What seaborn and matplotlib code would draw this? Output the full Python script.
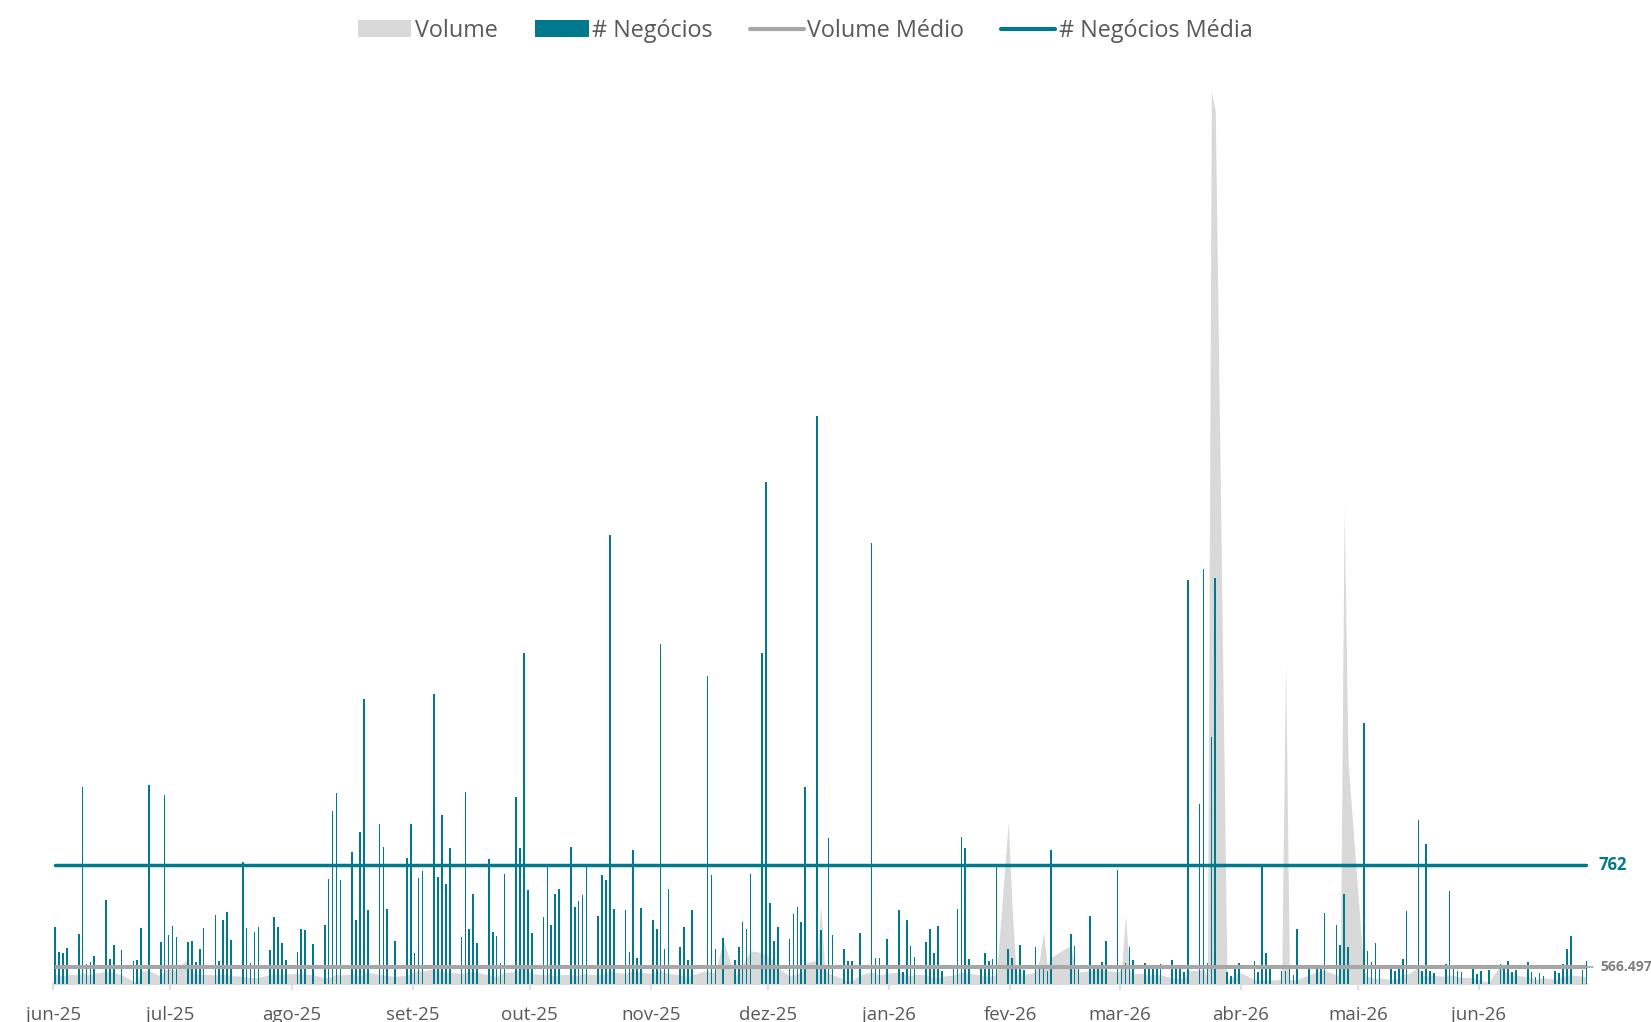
import numpy as np
import pandas as pd
import matplotlib
matplotlib.use("Agg")
import matplotlib.pyplot as plt
from matplotlib.patches import Patch
from matplotlib.lines import Line2D
import seaborn as sns

# ---------------- dados ----------------
inicio, fim = "2025-06-03", "2026-06-30"

# dias úteis sem pregão / sem negócios registrados
dias_sem_negocio = [
    "2025-06-19", "2025-06-26", "2025-08-07", "2025-08-28", "2025-11-14",
    "2025-11-20", "2025-12-25", "2026-01-01", "2026-02-16", "2026-02-17",
    "2026-04-03", "2026-04-21", "2026-05-01", "2026-06-04",
]

# número de negócios por pregão (uma linha por semana)
negocios = [
    365, 200, 196, 226,
    320, 1261, 128, 139, 175,
    538, 158, 248, 218,
    145, 149, 356, 1274,
    267, 1206, 312, 369, 299,
    265, 271, 139, 220, 356,
    440, 145, 405, 459, 282,
    777, 356, 134, 333, 361,
    213, 427, 363, 260, 154,
    203, 353, 341, 256,
    373, 670, 1108, 1221, 664,
    841, 408, 973, 1823, 472,
    1020, 873, 476, 273,
    805, 1020, 196, 676, 721,
    1857, 683, 1078, 640, 869,
    297, 1229, 348, 576, 260,
    800, 333, 305, 130, 700,
    1193, 866, 2118, 600, 324,
    429, 749, 376, 572, 604,
    877, 489, 527, 570, 749,
    435, 696, 664, 2873, 478,
    472, 205, 854, 162, 484,
    405, 348, 2172, 224, 606,
    237, 361, 154, 474,
    1970, 696, 222, 290,
    152, 235, 395, 350, 700,
    2118, 3210, 514, 275, 363,
    286, 446, 491, 395, 1259,
    3634, 344, 109, 930, 312,
    220, 147, 147, 324,
    2819, 162, 162, 286,
    474, 73, 408, 243, 169,
    265, 350, 196, 371, 81,
    100, 480, 937, 866, 156,
    100, 196, 145, 156, 751,
    220, 162, 100, 245, 87,
    233, 100, 100, 79, 856,
    320, 241, 100,
    431, 100, 100, 139, 275,
    728, 100, 130, 233, 154,
    134, 100, 100, 100, 128,
    152, 100, 100, 77, 2583,
    1150, 2657, 130, 1580, 2597,
    77, 51, 100, 130,
    143, 75, 751, 198, 100,
    79, 79, 100, 53, 348,
    100, 100, 100, 450,
    376, 245, 574, 237,
    1666, 207, 141, 258, 100,
    100, 79, 100, 158, 463,
    1048, 79, 896, 79, 70,
    126, 595, 100, 83, 75,
    100, 60, 81, 85,
    128, 117, 145, 77, 85,
    137, 75, 41, 68, 47,
    81, 66, 124, 220, 305,
    85, 145,
]

# volume financeiro por pregão, em milhares
volume_mil = [
    330, 300, 260, 320,
    300, 380, 330, 300, 350,
    420, 400, 380, 300,
    80, 120, 420, 450,
    250, 480, 500, 480, 460,
    860, 380, 330, 350, 320,
    300, 320, 330, 300, 280,
    250, 230, 220, 200, 220,
    300, 330, 320, 300, 330,
    350, 330, 320, 300,
    200, 230, 260, 330, 300,
    320, 300, 250, 350, 380,
    330, 300, 280, 250,
    280, 350, 420, 450, 430,
    500, 450, 420, 400, 380,
    350, 380, 420, 400, 380,
    300, 280, 250, 320, 380,
    420, 500, 650, 450, 350,
    300, 320, 300, 280, 300,
    320, 280, 300, 350, 330,
    300, 320, 350, 500, 380,
    350, 400, 500, 420, 380,
    350, 400, 450, 380, 350,
    300, 280, 250, 300,
    450, 400, 350, 1500,
    250, 450, 650, 900, 1120,
    1050, 1000, 900, 750, 550,
    250, 300, 350, 400, 700,
    800, 2670, 500, 350, 300,
    150, 120, 100, 300,
    400, 350, 300, 350,
    400, 350, 300, 280, 320,
    300, 250, 200, 220, 250,
    300, 350, 400, 380, 350,
    300, 280, 250, 280, 300,
    5500, 2500, 300, 350, 300,
    400, 800, 1760, 600, 900,
    1300, 600, 400,
    450, 500, 500, 450, 450,
    400, 450, 2330, 450, 350,
    350, 300, 300, 320, 300,
    200, 220, 200, 180, 450,
    450, 500, 200, 30300, 29600,
    100, 200, 300, 400,
    150, 120, 130, 150, 120,
    150, 10900, 150, 130, 150,
    300, 400, 450, 450,
    300, 250, 16200, 7500,
    450, 250, 200, 180, 200,
    150, 180, 200, 350, 300,
    550, 300, 250, 300, 280,
    250, 300, 280, 250, 220,
    200, 150, 120, 50,
    630, 400, 350, 300, 280,
    250, 200, 150, 180, 200,
    150, 200, 250, 300, 300,
    250, 250,
]

volume_medio = 566497
negocios_media = 762

rotulos_meses = ["jun-25", "jul-25", "ago-25", "set-25", "out-25", "nov-25",
                 "dez-25", "jan-26", "fev-26", "mar-26", "abr-26", "mai-26",
                 "jun-26"]

# ---------------- preparação ----------------
datas = pd.bdate_range(inicio, fim)
datas = datas[~datas.isin(pd.to_datetime(dias_sem_negocio))]
assert len(datas) == len(negocios) == len(volume_mil), (len(datas), len(negocios), len(volume_mil))

df = pd.DataFrame({
    "data": datas,
    "negocios": negocios,
    "volume": np.array(volume_mil, dtype=float) * 1000,
})

TEAL = "#00798C"
GRAY_LINE = "#A6A6A6"
AREA = "#D9D9D9"
TEXT = "#595959"

sns.set_theme(style="white")
plt.rcParams["font.family"] = ["Open Sans", "DejaVu Sans"]

W, H = 1651, 1022
fig = plt.figure(figsize=(W / 100, H / 100), dpi=100)

# área útil do gráfico (em pixels da figura)
px_left, px_right = 53.3, 1587.5
px_base, px_top = 983.7, 70.0
ax = fig.add_axes([px_left / W, (H - px_base) / H,
                   (px_right - px_left) / W, (px_base - px_top) / H])
ax_neg = ax.twinx()
ax_med = ax.twinx()

VOL_TOP = 31.0e6
NEG_TOP = 5850

# volume (área)
ax.fill_between(df["data"], df["volume"], 0, color=AREA, lw=0, zorder=1)

# negócios (barras)
ax_neg.bar(df["data"], df["negocios"], width=0.42, color=TEAL, lw=0, zorder=2)

# médias
n = len(df)
sns.lineplot(x=df["data"], y=np.full(n, negocios_media), ax=ax_neg,
             color=TEAL, lw=2.5, solid_capstyle="round", zorder=4)
sns.lineplot(x=df["data"], y=np.full(n, volume_medio), ax=ax_med,
             color=GRAY_LINE, lw=2.9, solid_capstyle="butt", zorder=3)
ultimo = df["data"].iloc[-1]
ax_med.plot([ultimo, ultimo + pd.Timedelta(days=1.8)], [volume_medio] * 2,
            color=GRAY_LINE, lw=1.2, clip_on=False)

ax_neg.annotate(f"{negocios_media:,}".replace(",", "."), xy=(ultimo, negocios_media),
                xytext=(9, 0), textcoords="offset points", ha="left", va="center",
                fontsize=12, fontweight="bold", color=TEAL, annotation_clip=False)
ax_med.annotate(f"{volume_medio:,}".replace(",", "."), xy=(ultimo, volume_medio),
                xytext=(10.0, 0), textcoords="offset points", ha="left", va="center",
                fontsize=10, fontweight="bold", color="#7F7F7F", annotation_clip=False)

# eixos
x_min = pd.Timestamp(inicio) - pd.Timedelta(days=0.5)
x_max = pd.Timestamp(fim) + pd.Timedelta(days=0.3)
for a in (ax, ax_neg, ax_med):
    a.set_xlim(x_min, x_max)
    a.set_ylabel("")
    a.set_xlabel("")
    a.set_yticks([])
    for s in a.spines.values():
        s.set_visible(False)
    a.grid(False)
ax.set_ylim(0, VOL_TOP)
ax_med.set_ylim(0, VOL_TOP)
ax_neg.set_ylim(0, NEG_TOP)

ax.spines["bottom"].set_visible(True)
ax.spines["bottom"].set_color(AREA)
ax.spines["bottom"].set_linewidth(1.6)

meses = pd.date_range("2025-06-01", "2026-06-01", freq="MS") + pd.Timedelta(hours=36)
ax.set_xticks(meses)
ax.set_xticklabels(rotulos_meses)
ax.tick_params(axis="x", direction="out", length=4.5, width=1.2, color=AREA,
               labelsize=13.5, labelcolor=TEXT, pad=11.5, bottom=True)
ax_neg.tick_params(axis="x", bottom=False, labelbottom=False)
ax_med.tick_params(axis="x", bottom=False, labelbottom=False)

# legenda
handles = [
    Patch(facecolor=AREA, edgecolor="none"),
    Patch(facecolor=TEAL, edgecolor="none"),
    Line2D([], [], color=GRAY_LINE, lw=3),
    Line2D([], [], color=TEAL, lw=3),
]
labels = ["Volume", "# Negócios", "Volume Médio", "# Negócios Média"]
fig.legend(handles, labels, loc="center", bbox_to_anchor=(805 / W, 1 - 30.8 / H),
           ncol=4, frameon=False, fontsize=16.8, handlelength=2.3,
           handleheight=0.72, handletextpad=0.15, columnspacing=1.6,
           labelcolor=TEXT)

fig.savefig("out.png", dpi=100)
